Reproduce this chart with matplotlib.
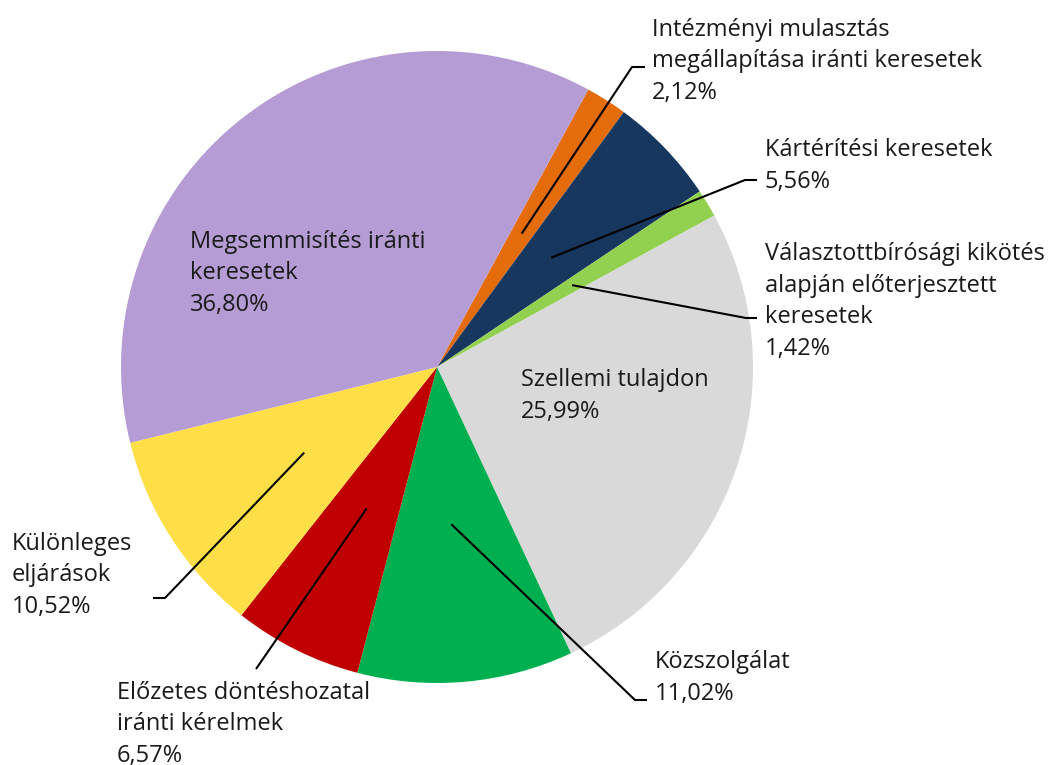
import numpy as np
import matplotlib
matplotlib.use("Agg")
import matplotlib.pyplot as plt

plt.rcParams['font.family'] = ['Open Sans', 'DejaVu Sans']

# adatok (óramutató járásával egyezően, a narancs szelettől)
kategoriak = [
    "Intézményi mulasztás\nmegállapítása iránti keresetek",
    "Kártérítési keresetek",
    "Választottbírósági kikötés\nalapján előterjesztett\nkeresetek",
    "Szellemi tulajdon",
    "Közszolgálat",
    "Előzetes döntéshozatal\niránti kérelmek",
    "Különleges\neljárások",
    "Megsemmisítés iránti\nkeresetek",
]
szazalekok = [2.12, 5.56, 1.42, 25.99, 11.02, 6.57, 10.52, 36.80]
szinek = ["#E46C0A", "#17375E", "#92D050", "#D9D9D9",
          "#00B050", "#C00000", "#FFDF47", "#B69CD4"]

W, H = 1051, 765
cx, cy, R = 437, H - 367, 316
kezdo_szog = 61.4

# címkék helye (utolsó sor alapvonala, pixelben felülről) és a vezetővonal töréspontja
cimke_hely = {
    0: (652, 99, (632, 67), (645, 67)),
    1: (765, 188, (745, 180), (757, 180)),
    2: (765, 355, (746, 318), (757, 318)),
    3: (521, 418, None, None),
    4: (655, 700, (635, 700), (647, 700)),
    5: (117, 762, (256, 669), None),
    6: (12, 613, (165, 598), (153, 598)),
    7: (190, 311, None, None),
}

fig = plt.figure(figsize=(W / 100, H / 100), dpi=100)
ax = fig.add_axes([0, 0, 1, 1])

wedges, _ = ax.pie(szazalekok, colors=szinek, startangle=kezdo_szog,
                   counterclock=False, center=(cx, cy), radius=R,
                   wedgeprops=dict(linewidth=0), frame=True)
ax.set_xlim(0, W)
ax.set_ylim(0, H)
ax.axis('off')

for i, (nev, ertek) in enumerate(zip(kategoriak, szazalekok)):
    x, y, torés, veg = cimke_hely[i]
    szoveg = f"{nev}\n{ertek:.2f}%".replace(".", ",")
    ax.text(x, H - y, szoveg, fontsize=17, va='baseline', ha='left',
            linespacing=1.43, color='#1a1a1a')
    if torés is not None:
        w = wedges[i]
        kozep = np.deg2rad((w.theta1 + w.theta2) / 2)
        sx = cx + 0.5 * R * np.cos(kozep)
        sy = cy + 0.5 * R * np.sin(kozep)
        xs = [sx, torés[0]]
        ys = [sy, H - torés[1]]
        if veg is not None:
            xs.append(veg[0])
            ys.append(H - veg[1])
        ax.plot(xs, ys, color='black', linewidth=1.5, solid_capstyle='butt')

fig.savefig("out.png", dpi=100)
